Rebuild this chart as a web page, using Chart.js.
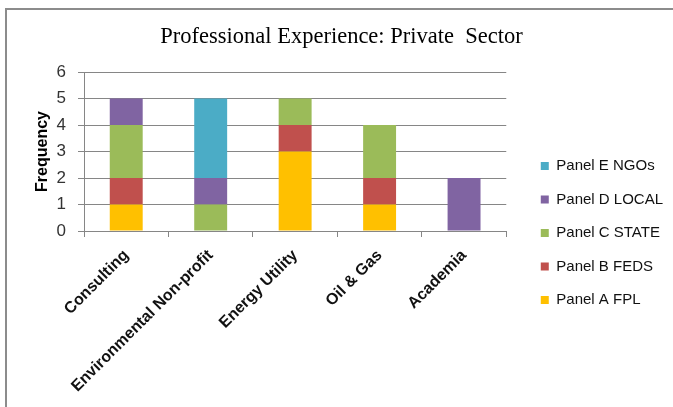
<!DOCTYPE html>
<html lang="en">
<head>
  <meta charset="UTF-8" />
  <title>Professional Experience: Private Sector</title>
  <script src="https://cdn.jsdelivr.net/npm/chart.js@4.4.1/dist/chart.umd.min.js"></script>
  <style>
    *{margin:0;padding:0;box-sizing:border-box}
    body{background:#fff;width:673px;height:407px;overflow:hidden}
    .frame{position:absolute;left:5px;top:8px;right:-10px;bottom:-10px;border-top:2px solid #8c8c8c;border-left:2px solid #8c8c8c}
    .wrap{position:absolute;left:0;top:0;width:673px;height:407px}
  </style>
</head>
<body>
  <div class="frame"></div>
  <div class="wrap"><canvas id="chart" width="673" height="407"></canvas></div>

  <script>
    // Sectors and panel counts (stacked, Panel A at the bottom)
    const sectors = ['Consulting', 'Environmental Non-profit', 'Energy Utility', 'Oil & Gas', 'Academia'];
    const panelA = [1, 0, 3, 1, 0];
    const panelB = [1, 0, 1, 1, 0];
    const panelC = [2, 1, 1, 2, 0];
    const panelD = [1, 1, 0, 0, 2];
    const panelE = [0, 3, 0, 0, 0];
    const yTicks = [0, 1, 2, 3, 4, 5, 6];

    const gridGrey = '#868686';

    // nudge the legend right/down and the title right after layout
    const nudgeBoxes = {
      id: 'nudgeBoxes',
      afterLayout(chart) {
        const lg = chart.legend;
        lg.left += 16; lg.right += 16;
        lg.top += 29.5; lg.bottom += 29.5;
        const tb = chart.titleBlock;
        tb.left += 13; tb.right += 13;
      }
    };

    new Chart(document.getElementById('chart'), {
      type: 'bar',
      data: {
        labels: sectors,
        datasets: [
          {label: 'Panel A FPL', data: panelA, backgroundColor: '#FFC000'},
          {label: 'Panel B FEDS', data: panelB, backgroundColor: '#C0504D'},
          {label: 'Panel C STATE', data: panelC, backgroundColor: '#9BBB59'},
          {label: 'Panel D LOCAL', data: panelD, backgroundColor: '#8064A2'},
          {label: 'Panel E NGOs', data: panelE, backgroundColor: '#4BACC6'}
        ]
      },
      options: {
        responsive: false,
        animation: false,
        datasets: {bar: {categoryPercentage: 1, barPercentage: 0.39}},
        layout: {padding: {left: 0, right: 16, top: 0, bottom: 0}},
        plugins: {
          title: {
            display: true,
            text: 'Professional Experience: Private  Sector',
            color: '#000',
            font: {family: '"Liberation Serif", serif', size: 22.5, weight: 'normal'},
            padding: {top: 24, bottom: 21}
          },
          legend: {
            position: 'right',
            reverse: true,
            labels: {
              color: '#111',
              font: {family: '"Liberation Sans", Arial, sans-serif', size: 15},
              boxWidth: 8,
              boxHeight: 8,
              padding: 18.5
            }
          },
          tooltip: {enabled: false}
        },
        scales: {
          x: {
            stacked: true,
            afterFit: s => { s.height = 176; },
            grid: {display: true, drawOnChartArea: false, drawTicks: true, tickLength: 6, color: gridGrey},
            border: {display: true, color: gridGrey},
            ticks: {
              maxRotation: 45, minRotation: 45, padding: 9,
              color: '#111',
              font: {family: '"Liberation Sans", Arial, sans-serif', size: 16, weight: 'bold'}
            }
          },
          y: {
            stacked: true,
            min: yTicks[0],
            max: yTicks[yTicks.length - 1],
            afterFit: s => { s.width = 84; },
            afterBuildTicks: s => { s.ticks = yTicks.map(v => ({value: v})); },
            grid: {color: gridGrey, tickLength: 6},
            border: {display: true, color: gridGrey},
            ticks: {
              padding: 12,
              color: '#333',
              font: {family: '"Liberation Sans", Arial, sans-serif', size: 17}
            },
            title: {
              display: true,
              text: 'Frequency',
              color: '#000',
              font: {family: '"Liberation Sans", Arial, sans-serif', size: 16, weight: 'bold'},
              padding: {top: 33, bottom: 0}
            }
          }
        }
      },
      plugins: [nudgeBoxes]
    });
  </script>
</body>
</html>
